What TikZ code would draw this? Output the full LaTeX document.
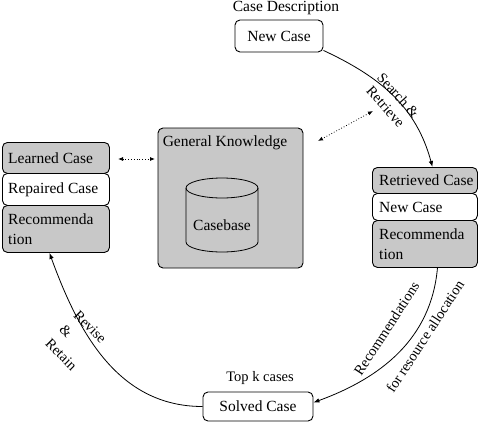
\documentclass[tikz,border=0pt]{standalone}
\usepackage{fontspec}
\setmainfont{Liberation Serif}
\usetikzlibrary{arrows.meta}
\definecolor{boxgray}{HTML}{C8C8C8}
\begin{document}
\begin{tikzpicture}[x=1pt,y=1pt,
  box/.style={draw, rounded corners=5pt, line width=0.9pt, font=\fontsize{15.5}{19}\selectfont, inner ysep=0pt},
  txt/.style={font=\fontsize{15.5}{19}\selectfont, inner sep=0pt},
  lbl/.style={font=\fontsize{14.5}{17}\selectfont, inner sep=0pt},
  stackL/.style={box, anchor=north west, minimum width=107pt},
  stackR/.style={box, anchor=north west, minimum width=105pt},
  intxt/.style={txt, anchor=west, align=left},
  flow/.style={line width=0.8pt, -{Latex[length=6pt,width=4.5pt]}},
  dots/.style={line width=0.8pt, dotted, {Latex[length=5pt,width=4pt]}-{Latex[length=5pt,width=4pt]}}
]
\useasboundingbox (0,0) rectangle (481,-423);

% top
\node[txt] (desc) at (286,-8) {Case Description};
\node[box, fill=white, minimum width=88pt, minimum height=32pt] (newcase) at (279,-36) {New Case};

% general knowledge
\node[box, fill=boxgray, minimum width=145pt, minimum height=140pt] (gk) at (230.5,-198) {};
\node[txt, anchor=west] (gkl) at ([xshift=5pt,yshift=-15pt]gk.north west) {General Knowledge};
\draw[line width=0.8pt] (186,-188) -- (186,-242) arc[start angle=180, end angle=360, x radius=36, y radius=10] -- (258,-188);
\draw[line width=0.8pt] (222,-188) ellipse[x radius=36, y radius=10];
\node[txt] (cb) at (222,-225) {Casebase};

% left stack
\node[stackL, fill=boxgray, minimum height=31pt] (learned) at (2,-142) {};
\node[intxt] (learnedt) at ([xshift=6pt]learned.west) {Learned Case};
\node[stackL, fill=white, minimum height=32pt] (repaired) at (2,-173) {};
\node[intxt] (repairedt) at ([xshift=6pt]repaired.west) {Repaired Case};
\node[stackL, fill=boxgray, minimum height=47pt] (recL) at (2,-205) {};
\node[intxt, font=\fontsize{15.5}{20}\selectfont] (recLt) at ([xshift=6pt]recL.west) {Recommenda\\tion};

% right stack
\node[stackR, fill=boxgray, minimum height=26pt] (retrieved) at (372,-167) {};
\node[intxt] (retrievedt) at ([xshift=7pt]retrieved.west) {Retrieved Case};
\node[stackR, fill=white, minimum height=27pt] (newR) at (372,-193) {};
\node[intxt] (newRt) at ([xshift=7pt]newR.west) {New Case};
\node[stackR, fill=boxgray, minimum height=47pt] (recR) at (372,-220) {};
\node[intxt, font=\fontsize{15.5}{20}\selectfont] (recRt) at ([xshift=7pt]recR.west) {Recommenda\\tion};

% bottom
\node[lbl] (topk) at (260,-378) {Top k cases};
\node[box, fill=white, minimum width=110pt, minimum height=29pt] (solved) at (258,-406.5) {Solved Case};

% dotted links
\coordinate (d1) at (373,-111);
\coordinate (d2) at (318,-141);
\draw[dots] (d1) -- (d2);
\coordinate (d3) at (118,-159);
\coordinate (d4) at (155,-159);
\draw[dots] (d3) -- (d4);

% flow arrows
\draw[flow] (newcase.-18) to[out=-25, in=105] ([xshift=7.5pt]retrieved.north);
\draw[flow] ([xshift=12.5pt]recR.south) to[out=-95, in=20] ([yshift=4pt]solved.east);
\draw[flow] (solved.west) to[out=180, in=-70] ([xshift=-6.5pt]recL.south);

% labels
\node[lbl, rotate=-48, align=center] (sr) at (392,-101) {Search \&\\Retrieve};
\node[lbl, rotate=-45, align=left] (rr) at (76,-341) {Revise\\[3pt]\&\\[3pt]Retain};
\node[lbl, rotate=57] (rec1) at (386.5,-328.5) {Recommendations};
\node[lbl, rotate=57] (rec2) at (425,-336.5) {for resource allocation};
\end{tikzpicture}
\end{document}
